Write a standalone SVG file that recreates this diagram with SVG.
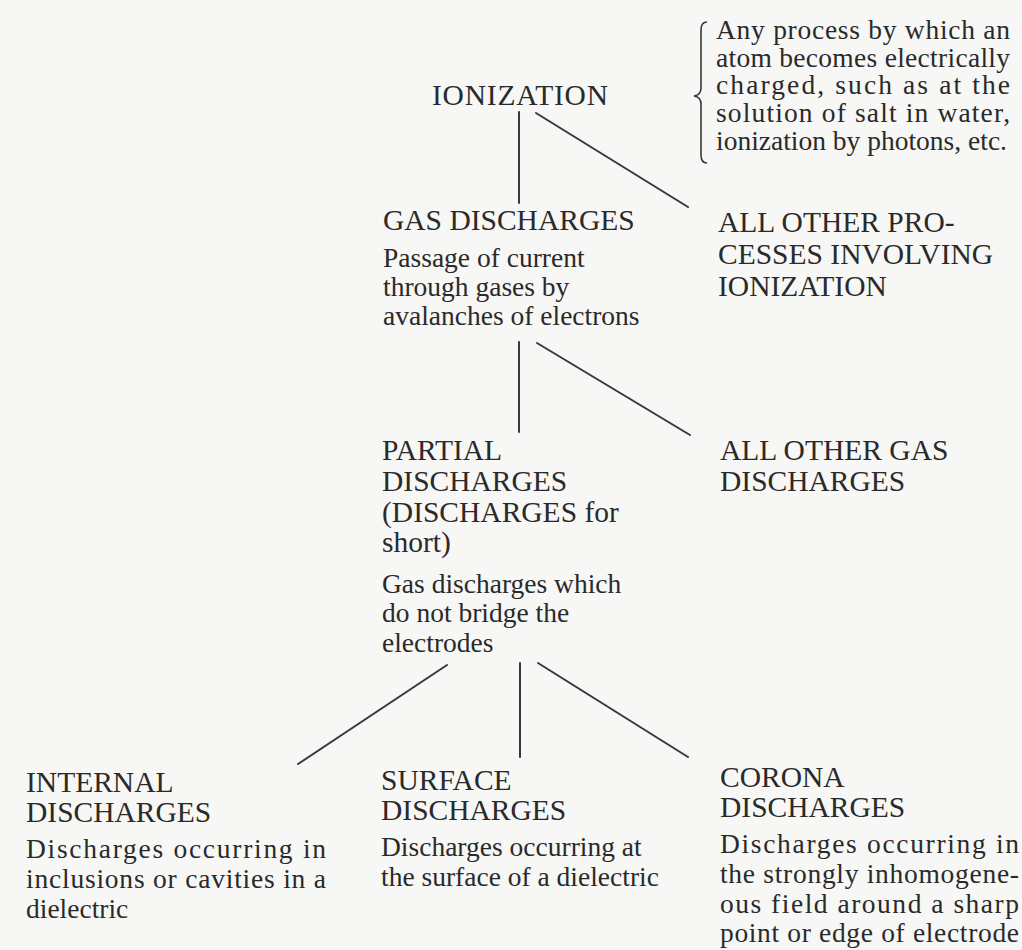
<svg xmlns="http://www.w3.org/2000/svg" width="1022" height="950" viewBox="0 0 1022 950">
<style>
text{font-family:"Liberation Serif","Times New Roman",serif;fill:#2a2a2a}
.h{font-size:29.5px}
.b{font-size:27.5px}
.c line{stroke:#383838;stroke-width:2;stroke-linecap:round}
.brace{fill:none;stroke:#383838;stroke-width:1.6}
</style>
<rect width="1022" height="950" fill="#f7f7f5"/>
<g class="c" id="connectors">
<line x1="519" y1="112" x2="519" y2="203"/>
<line x1="536" y1="113" x2="688" y2="207"/>
<line x1="519" y1="342" x2="519" y2="432"/>
<line x1="537" y1="343" x2="690" y2="435"/>
<line x1="447" y1="665" x2="298" y2="764"/>
<line x1="520" y1="663" x2="520" y2="757"/>
<line x1="538" y1="663" x2="688" y2="757"/>
</g>
<g id="ionization">
<text class="h" x="432" y="105" textLength="176" lengthAdjust="spacing">IONIZATION</text>
</g>
<g id="ionization-note">
<path class="brace" d="M707 22 Q701 22 701 30 L701 88 Q701 95 694 96 Q701 97 701 104 L701 155 Q701 163 707 163"/>
<text class="b" x="716" y="39" textLength="294" lengthAdjust="spacing">Any process by which an</text>
<text class="b" x="716" y="66.5" textLength="294" lengthAdjust="spacing">atom becomes electrically</text>
<text class="b" x="716" y="94" textLength="294" lengthAdjust="spacing">charged, such as at the</text>
<text class="b" x="716" y="121.5" textLength="294" lengthAdjust="spacing">solution of salt in water,</text>
<text class="b" x="716" y="149.5">ionization by photons, etc.</text>
</g>
<g id="gas-discharges">
<text class="h" x="383" y="230">GAS DISCHARGES</text>
<text class="b" x="383" y="267">Passage of current</text>
<text class="b" x="383" y="296">through gases by</text>
<text class="b" x="383" y="325">avalanches of electrons</text>
</g>
<g id="other-processes">
<text class="h" x="718" y="232">ALL OTHER PRO-</text>
<text class="h" x="718" y="264">CESSES INVOLVING</text>
<text class="h" x="718" y="296">IONIZATION</text>
</g>
<g id="partial-discharges">
<text class="h" x="382" y="460">PARTIAL</text>
<text class="h" x="382" y="491">DISCHARGES</text>
<text class="h" x="382" y="522">(DISCHARGES for</text>
<text class="h" x="382" y="552">short)</text>
<text class="b" x="382" y="593">Gas discharges which</text>
<text class="b" x="382" y="622">do not bridge the</text>
<text class="b" x="382" y="652">electrodes</text>
</g>
<g id="other-gas-discharges">
<text class="h" x="720" y="460">ALL OTHER GAS</text>
<text class="h" x="720" y="491">DISCHARGES</text>
</g>
<g id="internal-discharges">
<text class="h" x="26" y="792">INTERNAL</text>
<text class="h" x="26" y="822">DISCHARGES</text>
<text class="b" x="26" y="858" textLength="300" lengthAdjust="spacing">Discharges occurring in</text>
<text class="b" x="26" y="888" textLength="300" lengthAdjust="spacing">inclusions or cavities in a</text>
<text class="b" x="26" y="918">dielectric</text>
</g>
<g id="surface-discharges">
<text class="h" x="381" y="790">SURFACE</text>
<text class="h" x="381" y="820">DISCHARGES</text>
<text class="b" x="381" y="856">Discharges occurring at</text>
<text class="b" x="381" y="886">the surface of a dielectric</text>
</g>
<g id="corona-discharges">
<text class="h" x="720" y="787">CORONA</text>
<text class="h" x="720" y="817">DISCHARGES</text>
<text class="b" x="720" y="853" textLength="299" lengthAdjust="spacing">Discharges occurring in</text>
<text class="b" x="720" y="883" textLength="299" lengthAdjust="spacing">the strongly inhomogene-</text>
<text class="b" x="720" y="913" textLength="299" lengthAdjust="spacing">ous field around a sharp</text>
<text class="b" x="720" y="942" textLength="299" lengthAdjust="spacing">point or edge of electrode</text>
</g>
</svg>
